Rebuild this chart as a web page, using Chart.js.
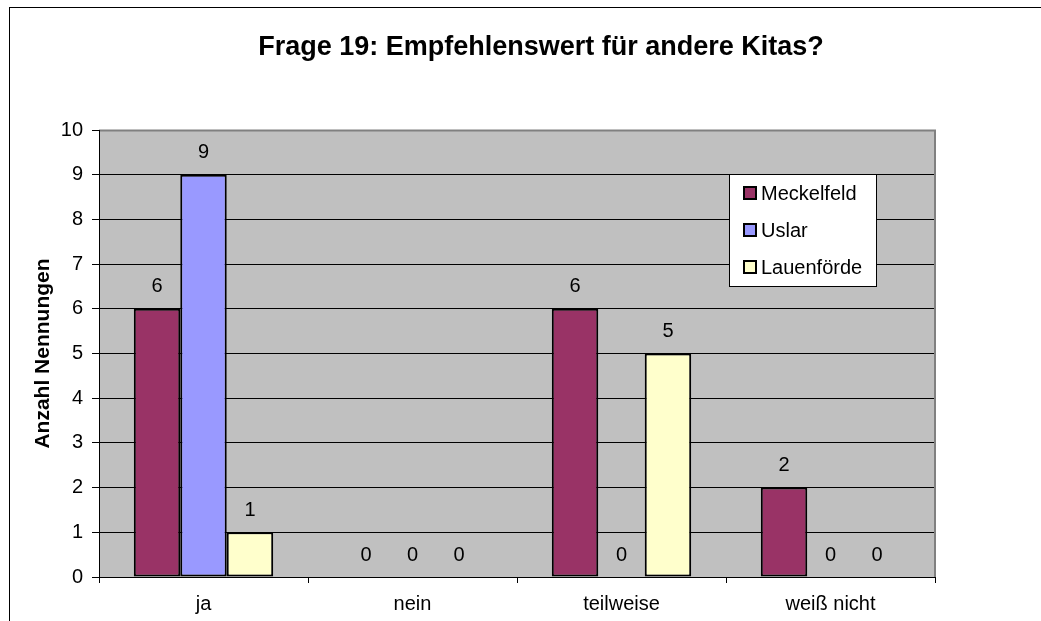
<!DOCTYPE html>
<html>
<head>
<meta charset="utf-8">
<script src="https://cdn.jsdelivr.net/npm/chart.js@4/dist/chart.umd.min.js"></script>
<style>
  html, body { margin: 0; padding: 0; background: #fff; }
  #wrap { width: 1041px; height: 621px; position: relative; }
</style>
</head>
<body>
<div id="wrap"><canvas id="chart"></canvas></div>
<script>
// Chart data
const chartTitle = 'Frage 19: Empfehlenswert für andere Kitas?';
const categories = ['ja', 'nein', 'teilweise', 'weiß nicht'];
const seriesNames = ['Meckelfeld', 'Uslar', 'Lauenförde'];
const meckelfeld = [6, 0, 6, 2];
const uslar = [9, 0, 0, 0];
const lauenfoerde = [1, 0, 5, 0];
const yTicks = [0, 1, 2, 3, 4, 5, 6, 7, 8, 9, 10];

const colors = ['#993366', '#9999FF', '#FFFFCC'];
const FONT = 'Arial, "Liberation Sans", sans-serif';

// Frame, title, plot background and axis lines
const framePlugin = {
  id: 'frame',
  beforeDraw(chart) {
    const { ctx, chartArea: a } = chart;
    ctx.save();
    ctx.fillStyle = '#fff';
    ctx.fillRect(0, 0, chart.width, chart.height);
    ctx.strokeStyle = '#000';
    ctx.lineWidth = 1;
    ctx.strokeRect(9.5, 7.5, chart.width + 10, chart.height + 10);
    ctx.fillStyle = '#C0C0C0';
    ctx.fillRect(a.left, a.top, a.right - a.left, a.bottom - a.top);
    ctx.fillStyle = '#000';
    ctx.font = 'bold 27px ' + FONT;
    ctx.textAlign = 'center';
    ctx.textBaseline = 'middle';
    ctx.fillText(chartTitle, 541, 48);
    ctx.restore();
  },
  afterDatasetsDraw(chart) {
    const { ctx, chartArea: a } = chart;
    ctx.save();
    ctx.strokeStyle = '#808080';
    ctx.lineWidth = 2;
    ctx.beginPath();
    ctx.moveTo(a.left, a.top + 0.5);
    ctx.lineTo(a.right, a.top + 0.5);
    ctx.lineTo(a.right, a.bottom);
    ctx.stroke();
    ctx.strokeStyle = '#000';
    ctx.lineWidth = 1;
    ctx.beginPath();
    ctx.moveTo(a.left + 0.5, a.top);
    ctx.lineTo(a.left + 0.5, a.bottom + 0.5);
    ctx.lineTo(a.right, a.bottom + 0.5);
    ctx.stroke();
    ctx.restore();
  }
};

// Value labels above bars
const valueLabels = {
  id: 'valueLabels',
  afterDatasetsDraw(chart) {
    const { ctx } = chart;
    ctx.save();
    ctx.fillStyle = '#000';
    ctx.font = '20px ' + FONT;
    ctx.textAlign = 'center';
    ctx.textBaseline = 'middle';
    chart.data.datasets.forEach((ds, i) => {
      chart.getDatasetMeta(i).data.forEach((bar, j) => {
        ctx.fillText(String(ds.data[j]), bar.x, bar.y - 22);
      });
    });
    ctx.restore();
  }
};

// Legend box inside the plot area
const boxLegend = {
  id: 'boxLegend',
  afterDraw(chart) {
    const { ctx } = chart;
    const x = 729, y = 174, w = 147, h = 112;
    ctx.save();
    ctx.fillStyle = '#fff';
    ctx.fillRect(x, y, w, h);
    ctx.strokeStyle = '#000';
    ctx.lineWidth = 1;
    ctx.strokeRect(x + 0.5, y + 0.5, w, h);
    ctx.font = '20px ' + FONT;
    ctx.textBaseline = 'middle';
    ctx.textAlign = 'left';
    chart.data.datasets.forEach((ds, i) => {
      const cy = y + 19 + i * 37;
      ctx.fillStyle = ds.backgroundColor;
      ctx.fillRect(x + 15, cy - 6, 12, 12);
      ctx.lineWidth = 2;
      ctx.strokeRect(x + 15, cy - 6, 12, 12);
      ctx.fillStyle = '#000';
      ctx.fillText(ds.label, x + 32, cy + 1);
    });
    ctx.restore();
  }
};

const datasets = [meckelfeld, uslar, lauenfoerde].map((d, i) => ({
  label: seriesNames[i],
  data: d,
  backgroundColor: colors[i],
  borderColor: '#000',
  borderWidth: 2,
  borderSkipped: false,
  categoryPercentage: 0.667,
  barPercentage: 1.0
}));

new Chart(document.getElementById('chart'), {
  type: 'bar',
  data: { labels: categories, datasets },
  options: {
    responsive: true,
    maintainAspectRatio: false,
    animation: false,
    layout: { padding: { left: 0, right: 106, top: 130, bottom: 0 } },
    plugins: {
      legend: { display: false },
      tooltip: { enabled: false },
      title: { display: false }
    },
    scales: {
      x: {
        grid: { offset: true, drawOnChartArea: false, drawTicks: true, tickLength: 6, color: '#000' },
        border: { display: false },
        ticks: { color: '#000', font: { family: FONT, size: 20 }, padding: 9 },
        afterFit(box) { box.height = 44; }
      },
      y: {
        min: 0,
        max: 10,
        afterBuildTicks(axis) { axis.ticks = yTicks.map(v => ({ value: v })); },
        grid: { color: '#000', lineWidth: 1, tickLength: 7, drawTicks: true },
        border: { display: false },
        ticks: { color: '#000', font: { family: FONT, size: 20 }, padding: 9 },
        title: {
          display: true,
          text: 'Anzahl Nennungen',
          color: '#000',
          font: { family: FONT, size: 21, weight: 'bold', lineHeight: 1.2 },
          padding: { top: 31, bottom: 0 }
        },
        afterFit(box) { box.width = 99; }
      }
    }
  },
  plugins: [framePlugin, valueLabels, boxLegend]
});
</script>
</body>
</html>
